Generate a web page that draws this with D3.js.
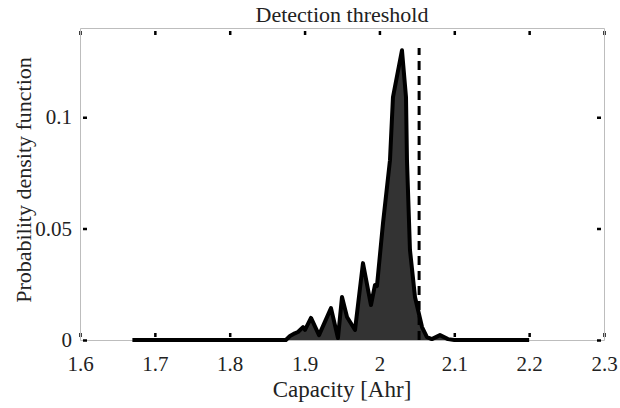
<!DOCTYPE html>
<html>
<head>
<meta charset="utf-8">
<script src="https://cdnjs.cloudflare.com/ajax/libs/d3/7.8.5/d3.min.js"></script>
<style>
  body { margin: 0; background: #fff; }
  svg { display: block; }
</style>
</head>
<body>
<script>
// values
var capacity = [1.67, 1.875, 1.8805, 1.887, 1.8912, 1.8979, 1.9006, 1.9086, 1.9193, 1.9353, 1.9446, 1.95, 1.9567, 1.9674,
                1.978, 1.9887, 1.9941, 1.9967, 2.0048, 2.0141, 2.0181, 2.0301, 2.0355, 2.0368, 2.0408, 2.0475, 2.0569,
                2.0635, 2.07, 2.0809, 2.0916, 2.10, 2.2];
var density = [0, 0, 0.0018, 0.003, 0.0036, 0.0058, 0.0045, 0.0099, 0.0022, 0.0143, 0.0009, 0.0193, 0.0103, 0.0045,
               0.0345, 0.0157, 0.0247, 0.0242, 0.0525, 0.0807, 0.109, 0.130, 0.109, 0.0807, 0.0404, 0.0193, 0.0058,
               0.0013, 0.0004, 0.0022, 0.0004, 0, 0];
var threshold = 2.053;
var thresholdTop = 0.131;
var xTicks = [1.6, 1.7, 1.8, 1.9, 2.0, 2.1, 2.2, 2.3];
var yTicks = [0, 0.05, 0.1];

var W = 620, H = 408;
var margin = {left: 80, right: 16, top: 28, bottom: 68};
var serif = "'Liberation Serif', 'Times New Roman', serif";

var svg = d3.select("body").append("svg")
    .attr("width", W)
    .attr("height", H);

var x = d3.scaleLinear().domain([1.6, 2.3]).range([margin.left, W - margin.right]);
var y = d3.scaleLinear().domain([0, 0.14]).range([H - margin.bottom, margin.top]);

var pts = capacity.map(function(c, i) { return [c, density[i]]; });

var area = d3.area()
    .x(function(d) { return x(d[0]); })
    .y0(y(0))
    .y1(function(d) { return y(d[1]); });
var line = d3.line()
    .x(function(d) { return x(d[0]); })
    .y(function(d) { return y(d[1]); });

// axes (ticks inward, gray box)
var fmt = function(d) { return d3.format("~g")(d); };
var styleAxis = function(g) {
    g.attr("font-family", serif).attr("font-size", 21);
    g.select(".domain").attr("stroke", "#bdbdbd").attr("stroke-width", 1);
    g.selectAll(".tick line").attr("stroke", "#000").attr("stroke-width", 2.5)
        .attr("stroke-dasharray", "0,3,3");
    g.selectAll(".tick text")
        .style("font-family", serif)
        .style("font-size", "21px")
        .attr("fill", "#222");
};

svg.append("g")
    .attr("transform", "translate(0," + y(0) + ")")
    .call(d3.axisBottom(x).tickValues(xTicks).tickFormat(fmt).tickSizeInner(-7).tickSizeOuter(0).tickPadding(16))
    .call(styleAxis);
svg.append("g")
    .attr("transform", "translate(0," + y(0.14) + ")")
    .call(d3.axisTop(x).tickValues(xTicks).tickFormat("").tickSizeInner(-7).tickSizeOuter(0))
    .call(styleAxis);
svg.append("g")
    .attr("transform", "translate(" + x(1.6) + ",0)")
    .call(d3.axisLeft(y).tickValues(yTicks).tickFormat(fmt).tickSizeInner(-7).tickSizeOuter(0).tickPadding(8))
    .call(styleAxis);
svg.append("g")
    .attr("transform", "translate(" + x(2.3) + ",0)")
    .call(d3.axisRight(y).tickValues(yTicks).tickFormat("").tickSizeInner(-7).tickSizeOuter(0))
    .call(styleAxis);

// pdf
svg.append("path")
    .datum(pts)
    .attr("d", area)
    .attr("fill", "#333333");
svg.append("path")
    .datum(pts)
    .attr("d", line)
    .attr("fill", "none")
    .attr("stroke", "#000")
    .attr("stroke-width", 4)
    .attr("stroke-linejoin", "round");

// detection threshold
svg.append("line")
    .attr("x1", x(threshold)).attr("x2", x(threshold))
    .attr("y1", y(0)).attr("y2", y(thresholdTop))
    .attr("stroke", "#000")
    .attr("stroke-width", 3)
    .attr("stroke-dasharray", "9,6");

// texts
svg.append("text")
    .attr("x", (x(1.6) + x(2.3)) / 2)
    .attr("y", 22)
    .attr("text-anchor", "middle")
    .style("font-family", serif)
    .style("font-size", "22px")
    .attr("fill", "#222")
    .text("Detection threshold");

svg.append("text")
    .attr("x", (x(1.6) + x(2.3)) / 2)
    .attr("y", 397)
    .attr("text-anchor", "middle")
    .style("font-family", serif)
    .style("font-size", "23px")
    .attr("fill", "#222")
    .text("Capacity [Ahr]");

svg.append("text")
    .attr("transform", "translate(31,180) rotate(-90)")
    .attr("text-anchor", "middle")
    .style("font-family", serif)
    .style("font-size", "22px")
    .attr("fill", "#222")
    .text("Probability density function");
</script>
</body>
</html>
